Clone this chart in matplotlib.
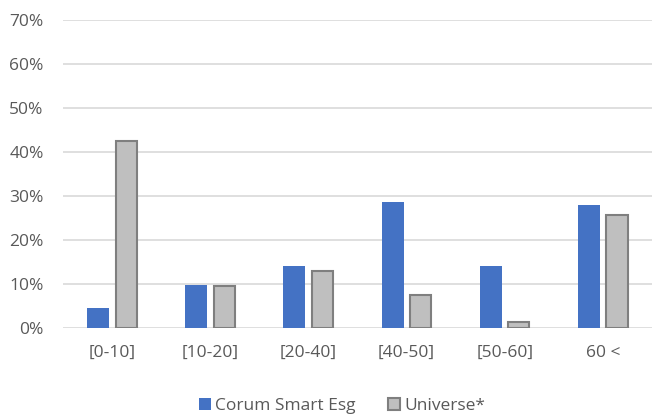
import numpy as np
import matplotlib.pyplot as plt
from matplotlib.ticker import PercentFormatter

categories = ['[0-10]', '[10-20]', '[20-40]', '[40-50]', '[50-60]', '60 <']
corum = [0.047, 0.098, 0.142, 0.286, 0.141, 0.280]
universe = [0.426, 0.097, 0.130, 0.076, 0.014, 0.258]

blue = '#4472C4'
grey = '#BFBFBF'
edge = '#7F7F7F'
text_col = '#595959'

plt.rcParams['font.family'] = ['Open Sans', 'DejaVu Sans']

fig = plt.figure(figsize=(6.55, 4.16), dpi=100)
ax = fig.add_axes([63 / 655, 87.7 / 416, 589 / 655, 308 / 416])

x = np.arange(len(categories))
w = 0.225
ax.bar(x - 0.143, corum, width=w, color=blue, label='Corum Smart Esg', zorder=3)
ax.bar(x + 0.143, universe, width=w - 0.01, color=grey, edgecolor=edge,
       linewidth=1.5, label='Universe*', zorder=3)

ax.set_xlim(-0.5, len(categories) - 0.5)
ax.set_ylim(0, 0.7)
ax.set_yticks(np.arange(0, 0.71, 0.1))
ax.yaxis.set_major_formatter(PercentFormatter(1.0, decimals=0))
ax.set_xticks(x)
ax.set_xticklabels(categories)
ax.tick_params(axis='both', length=0, colors=text_col, labelsize=12.5)
ax.tick_params(axis='y', pad=14)
ax.tick_params(axis='x', pad=12)

ax.grid(axis='y', color='#D9D9D9', linewidth=1.2, zorder=0)
for s in ax.spines.values():
    s.set_visible(False)

leg = ax.legend(loc='upper center', bbox_to_anchor=(0.474, -0.175), ncol=2,
                frameon=False, fontsize=12.5, handlelength=0.65, handleheight=0.65,
                handletextpad=0.25, columnspacing=1.9)
for t in leg.get_texts():
    t.set_color(text_col)

fig.savefig('out.png', dpi=100)
